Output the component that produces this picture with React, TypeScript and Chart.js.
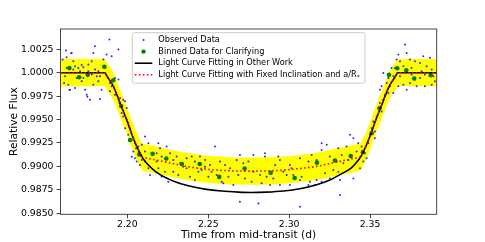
import React, { useEffect, useRef } from 'react';
import { Chart, registerables } from 'chart.js';

Chart.register(...registerables);

const FONT = '"DejaVu Sans", "Noto Sans", sans-serif';

const xTicks = [2.2, 2.25, 2.3, 2.35];
const yTicks = [0.985, 0.9875, 0.99, 0.9925, 0.995, 0.9975, 1.0, 1.0025];
const xRange = [2.1587, 2.3912];
const yRange = [0.98489, 1.00466];

const legendLabels = [
  'Observed Data',
  'Binned Data for Clarifying',
  'Light Curve Fitting in Other Work',
  'Light Curve Fitting with Fixed Inclination and a/R*',
];

// observed data points [time, relative flux]
const observedData: number[][] = [
  [2.16, 1.0014], [2.1625, 1.00165], [2.1656, 1.00211], [2.1666, 1.00122], [2.1621, 1.00236],
  [2.1677, 1.00068], [2.1697, 1.0005], [2.1728, 1.00058], [2.1759, 1.00086], [2.178, 1.00122],
  [2.179, 1.00211], [2.18, 1.00283], [2.1852, 1.0014], [2.1872, 1.00193], [2.1889, 1.00354],
  [2.1903, 1.00176], [2.1945, 1.00247], [2.1609, 0.9989], [2.1635, 0.99872], [2.1646, 0.99819],
  [2.1677, 0.99836], [2.1718, 0.99908], [2.1739, 0.99819], [2.1749, 0.99765], [2.1769, 0.99711],
  [2.179, 0.99872], [2.1821, 0.99908], [2.1841, 0.99819], [2.178, 0.9998], [2.1811, 0.99961],
  [2.1831, 0.99961], [2.1759, 1.00015], [2.1708, 1.00015], [2.1666, 1.00033], [2.1625, 1.0005],
  [2.1615, 0.99961], [2.1687, 0.99944], [2.1728, 0.99944], [2.18, 1.00033], [2.1821, 1.00015],
  [2.1893, 0.9989], [2.1903, 0.99854], [2.1914, 0.99908], [2.1924, 0.99944], [2.1945, 0.99926],
  [2.1893, 0.99801], [2.1924, 0.99765], [2.1955, 0.99729], [2.1975, 0.99711], [2.1986, 0.99694],
  [2.1996, 0.99622], [2.1965, 0.9964], [2.1951, 0.99676], [2.1965, 0.99569], [2.1975, 0.99533],
  [2.1996, 0.99497], [2.2006, 0.99462], [2.2016, 0.99408], [2.1986, 0.99408], [2.2006, 0.99337],
  [2.2027, 0.99283], [2.2047, 0.99247], [2.2068, 0.99212], [2.2089, 0.9923], [2.2109, 0.99319],
  [2.213, 0.99247], [2.2109, 0.99158], [2.2037, 0.99158], [2.2027, 0.99104], [2.2047, 0.99087],
  [2.2058, 0.99051], [2.2089, 0.99069], [2.2078, 0.99015], [2.2109, 0.99051], [2.213, 0.9898],
  [2.214, 0.98908], [2.2054, 0.99194], [2.2078, 0.9913], [2.1653, 1.00208], [2.1718, 1.00082],
  [2.1642, 0.99815], [2.1753, 0.99743], [2.1831, 0.99718],
  [2.2192, 0.99247], [2.2202, 0.99194], [2.2243, 0.99212], [2.2181, 0.9914], [2.2212, 0.99105],
  [2.2264, 0.9914], [2.2284, 0.99069], [2.2305, 0.99105], [2.2326, 0.99033], [2.2367, 0.99087],
  [2.2398, 0.99105], [2.2418, 0.99051], [2.2449, 0.99105], [2.248, 0.99069], [2.2511, 0.99015],
  [2.2542, 0.99212], [2.248, 0.98997], [2.2521, 0.98944], [2.2573, 0.99051], [2.2604, 0.99015],
  [2.2635, 0.9898], [2.2676, 0.99069], [2.2696, 0.99122], [2.2717, 0.99033], [2.2748, 0.99051],
  [2.2192, 0.9898], [2.2233, 0.98944], [2.2284, 0.98944], [2.2315, 0.98908], [2.2367, 0.9898],
  [2.2387, 0.9889], [2.2439, 0.98944], [2.2501, 0.9889], [2.2552, 0.98908], [2.2583, 0.98837],
  [2.2624, 0.9889], [2.2686, 0.98908], [2.2727, 0.98872], [2.2253, 0.98837], [2.2212, 0.9889],
  [2.2418, 0.98855], [2.2593, 0.98819], [2.2655, 0.98801], [2.2696, 0.98623], [2.2181, 0.99051],
  [2.2346, 0.98997], [2.2459, 0.98962],
  [2.2779, 0.99122], [2.2851, 0.9914], [2.2851, 0.99105], [2.2933, 0.99105], [2.2943, 0.99069],
  [2.3005, 0.99015], [2.3067, 0.99087], [2.3119, 0.99051], [2.3139, 0.99122], [2.317, 0.99069],
  [2.3201, 0.99247], [2.3232, 0.9923], [2.3201, 0.99176], [2.3252, 0.99105], [2.3304, 0.99194],
  [2.3325, 0.99122], [2.3294, 0.99051], [2.3335, 0.99033], [2.2779, 0.98944], [2.282, 0.98908],
  [2.2861, 0.9889], [2.2902, 0.98872], [2.2964, 0.98944], [2.2985, 0.98908], [2.3015, 0.9898],
  [2.3077, 0.9889], [2.3129, 0.98837], [2.317, 0.98855], [2.3222, 0.98926], [2.3273, 0.98962],
  [2.3304, 0.98944], [2.2768, 0.98837], [2.283, 0.98819], [2.2882, 0.98801], [2.2943, 0.98801],
  [2.3005, 0.98801], [2.3067, 0.98855], [2.3119, 0.98801], [2.316, 0.98801], [2.3201, 0.98837],
  [2.3252, 0.98872], [2.3314, 0.98855], [2.281, 0.98605], [2.3067, 0.98569], [2.3314, 0.98694],
  [2.2913, 0.99015], [2.3026, 0.98908],
  [2.3376, 0.99337], [2.3397, 0.99301], [2.3355, 0.99212], [2.3366, 0.99069], [2.3417, 0.99158],
  [2.3427, 0.99247], [2.3448, 0.99212], [2.3397, 0.98872], [2.3438, 0.9898], [2.3458, 0.99051],
  [2.3479, 0.99087], [2.3489, 0.99247], [2.35, 0.99337], [2.351, 0.99408], [2.352, 0.9948],
  [2.353, 0.99372], [2.3541, 0.99533], [2.3551, 0.99622], [2.3561, 0.99676], [2.3572, 0.99586],
  [2.3582, 0.99711], [2.3561, 0.99819], [2.3572, 0.99854], [2.3592, 0.99765], [2.3603, 0.9989],
  [2.3582, 0.99997], [2.3613, 0.99944], [2.3623, 0.99854], [2.3644, 0.99961], [2.3654, 1.0005],
  [2.3664, 1.0014], [2.3675, 1.00193], [2.3685, 1.00122], [2.3706, 1.00068], [2.3726, 1.00211],
  [2.3716, 1.003], [2.3747, 1.0014], [2.3757, 1.0005], [2.3778, 1.00122], [2.3809, 1.00104],
  [2.3829, 1.00176], [2.385, 1.00068], [2.387, 1.00158], [2.3881, 1.00033], [2.3839, 0.9998],
  [2.3809, 0.99944], [2.3778, 0.99926], [2.3747, 0.9989], [2.3706, 0.99872], [2.3675, 0.99854],
  [2.3726, 0.99819], [2.3788, 0.99854], [2.3839, 0.99854], [2.3881, 0.99872], [2.3901, 0.99908],
  [2.3685, 0.99961], [2.3757, 0.9998], [2.3819, 1.00015], [2.3891, 0.99961], [2.3633, 1.0005],
  [2.3613, 0.99783], [2.3644, 0.99783], [2.353, 0.99301], [2.3469, 0.9914],
];

// binned data [time, relative flux]
const binnedData: number[][] = [
  [2.1642, 1.00049], [2.1702, 0.99951], [2.1755, 0.99977], [2.1858, 1.00062], [2.1913, 0.9992],
  [2.1962, 0.99645], [2.2017, 0.99281], [2.2074, 0.99128], [2.2156, 0.99134], [2.2241, 0.99085],
  [2.2337, 0.99026], [2.2447, 0.99026], [2.2568, 0.98888], [2.2725, 0.98978], [2.2886, 0.98933],
  [2.3034, 0.98877], [2.3172, 0.9904], [2.3283, 0.99063], [2.3381, 0.99111], [2.3456, 0.99152],
  [2.351, 0.99353], [2.3559, 0.9962], [2.3617, 0.99977], [2.3668, 1.00048], [2.3724, 1.00025],
  [2.3773, 0.99938], [2.3875, 0.99972],
];

// light curve fitting in other work
const otherTime = [
  2.1587, 2.1862, 2.1872, 2.1914, 2.1955, 2.1996, 2.2037, 2.2068, 2.2089, 2.212, 2.2151, 2.22,
  2.2295, 2.2377, 2.248, 2.2583, 2.2686, 2.2766, 2.2861, 2.2964, 2.3067, 2.317, 2.3252, 2.332,
  2.3381, 2.3412, 2.3443, 2.3464, 2.3495, 2.3536, 2.3577, 2.3618, 2.366, 2.367, 2.3912,
];
const otherFlux = [
  1.0, 1.0, 0.99968, 0.99854, 0.99676, 0.99497, 0.99301, 0.99176, 0.99105, 0.99033, 0.9898, 0.98915,
  0.98837, 0.98794, 0.98758, 0.98737, 0.98726, 0.98722, 0.98726, 0.98738, 0.98762, 0.98805, 0.98855, 0.98918,
  0.9898, 0.99033, 0.99105, 0.99176, 0.99301, 0.99497, 0.99676, 0.99854, 0.99968, 1.0, 1.0,
];

// light curve fitting with fixed inclination and a/R*
const fixedTime = [
  2.1587, 2.1862, 2.1872, 2.1914, 2.1955, 2.1996, 2.2037, 2.2068, 2.2089, 2.213, 2.2202, 2.228,
  2.2377, 2.248, 2.2583, 2.2686, 2.2766, 2.2861, 2.2964, 2.3067, 2.317, 2.325, 2.333, 2.34,
  2.3443, 2.3464, 2.3495, 2.3536, 2.3577, 2.3618, 2.366, 2.367, 2.3912,
];
const fixedFlux = [
  1.0, 1.0, 0.99968, 0.99854, 0.99676, 0.99497, 0.99301, 0.99176, 0.9911, 0.99085, 0.9906, 0.9903,
  0.98997, 0.98972, 0.98958, 0.98951, 0.9895, 0.98952, 0.9896, 0.98978, 0.99, 0.9903, 0.9906, 0.99085,
  0.9911, 0.99176, 0.99301, 0.99497, 0.99676, 0.99854, 0.99968, 1.0, 1.0,
];
// uncertainty band around the fixed fit (same time grid)
const bandUpper = [
  1.00145, 1.00145, 1.00113, 0.99999, 0.99821, 0.99642, 0.99446, 0.99321, 0.99255, 0.9923, 0.99205, 0.99175,
  0.99142, 0.99117, 0.99103, 0.99096, 0.99095, 0.99097, 0.99105, 0.99123, 0.99145, 0.99175, 0.99205, 0.9923,
  0.99255, 0.99321, 0.99446, 0.99642, 0.99821, 0.99999, 1.00113, 1.00145, 1.00145,
];
const bandLower = [
  0.99855, 0.99855, 0.99823, 0.99709, 0.99531, 0.99352, 0.99156, 0.99031, 0.98965, 0.9894, 0.98915, 0.98885,
  0.98852, 0.98827, 0.98813, 0.98806, 0.98805, 0.98807, 0.98815, 0.98833, 0.98855, 0.98885, 0.98915, 0.9894,
  0.98965, 0.99031, 0.99156, 0.99352, 0.99531, 0.99709, 0.99823, 0.99855, 0.99855,
];

const toXY = (t: number[], v: number[]) => t.map((x, i) => ({ x, y: v[i] }));

const frameLegendPlugin = {
  id: 'frameLegend',
  afterDraw(chart: any) {
    const { ctx, chartArea: a } = chart;
    ctx.save();
    // axes frame (all four spines)
    ctx.strokeStyle = '#333333';
    ctx.lineWidth = 0.9;
    ctx.strokeRect(a.left, a.top, a.right - a.left, a.bottom - a.top);

    // legend box
    const mainFont = `8.2px ${FONT}`;
    const subFont = `5.7px ${FONT}`;
    ctx.font = mainFont;
    const widths = legendLabels.map((l) => {
      if (l.endsWith('*')) {
        ctx.font = mainFont;
        const w = ctx.measureText(l.slice(0, -1)).width;
        ctx.font = subFont;
        const w2 = ctx.measureText('*').width;
        ctx.font = mainFont;
        return w + w2 + 1;
      }
      return ctx.measureText(l).width;
    });
    const textW = Math.max(...widths);
    const padL = 2.5, handleW = 17.6, gap = 6, padR = 4.5;
    const rowH = 11.6;
    const boxW = padL + handleW + gap + textW + padR;
    const boxH = 7.3 + rowH * 3 + 8.3;
    const cx = (a.left + a.right) / 2;
    const bx = cx - boxW / 2;
    const by = a.top + 3.7;
    ctx.beginPath();
    if (ctx.roundRect) ctx.roundRect(bx, by, boxW, boxH, 2);
    else ctx.rect(bx, by, boxW, boxH);
    ctx.fillStyle = 'rgba(255,255,255,0.85)';
    ctx.fill();
    ctx.strokeStyle = '#cccccc';
    ctx.lineWidth = 1;
    ctx.stroke();

    const hx0 = bx + padL;
    const hx1 = hx0 + handleW;
    const hcx = (hx0 + hx1) / 2;
    const tx = hx1 + gap;
    legendLabels.forEach((label, i) => {
      const y = by + 7.3 + i * rowH;
      // handle
      if (i === 0) {
        ctx.fillStyle = '#2a2aff';
        ctx.beginPath();
        ctx.arc(hcx, y, 1, 0, Math.PI * 2);
        ctx.fill();
      } else if (i === 1) {
        ctx.fillStyle = '#008000';
        ctx.beginPath();
        ctx.arc(hcx, y, 2.2, 0, Math.PI * 2);
        ctx.fill();
      } else if (i === 2) {
        ctx.strokeStyle = '#000000';
        ctx.lineWidth = 1.6;
        ctx.setLineDash([]);
        ctx.beginPath();
        ctx.moveTo(hx0, y);
        ctx.lineTo(hx1, y);
        ctx.stroke();
      } else {
        ctx.strokeStyle = '#ff0000';
        ctx.lineWidth = 1.6;
        ctx.setLineDash([1.6, 2.4]);
        ctx.beginPath();
        ctx.moveTo(hx0, y);
        ctx.lineTo(hx1, y);
        ctx.stroke();
        ctx.setLineDash([]);
      }
      // text
      ctx.fillStyle = '#000000';
      ctx.textAlign = 'left';
      ctx.textBaseline = 'middle';
      if (label.endsWith('*')) {
        const base = label.slice(0, -1);
        ctx.font = mainFont;
        ctx.fillText(base, tx, y);
        const w = ctx.measureText(base).width;
        ctx.font = subFont;
        ctx.fillText('*', tx + w + 0.5, y + 2.3);
      } else {
        ctx.font = mainFont;
        ctx.fillText(label, tx, y);
      }
    });
    ctx.restore();
  },
};

export default function App() {
  const canvasRef = useRef<HTMLCanvasElement | null>(null);

  useEffect(() => {
    document.body.style.margin = '0';
    const canvas = canvasRef.current;
    if (!canvas) return;
    const tickFont = { family: FONT, size: 9.3 };
    const titleFont = { family: FONT, size: 10.7, lineHeight: 1.2 };
    const chart = new Chart(canvas, {
      type: 'scatter',
      data: {
        datasets: [
          {
            type: 'line',
            label: 'band lower',
            data: toXY(fixedTime, bandLower),
            borderWidth: 0,
            borderColor: 'rgba(0,0,0,0)',
            pointRadius: 0,
            fill: false,
            cubicInterpolationMode: 'monotone',
            order: 6,
          } as any,
          {
            type: 'line',
            label: 'band upper',
            data: toXY(fixedTime, bandUpper),
            borderWidth: 0,
            borderColor: 'rgba(0,0,0,0)',
            backgroundColor: '#ffff00',
            pointRadius: 0,
            fill: '-1',
            cubicInterpolationMode: 'monotone',
            order: 5,
          } as any,
          {
            type: 'scatter',
            label: legendLabels[0],
            data: observedData.map(([x, y]) => ({ x, y })),
            backgroundColor: '#2a2aff',
            borderWidth: 0,
            pointRadius: 1,
            order: 4,
          },
          {
            type: 'scatter',
            label: legendLabels[1],
            data: binnedData.map(([x, y]) => ({ x, y })),
            backgroundColor: '#008000',
            borderWidth: 0,
            pointRadius: 2.3,
            order: 3,
          },
          {
            type: 'line',
            label: legendLabels[2],
            data: toXY(otherTime, otherFlux),
            borderColor: '#000000',
            borderWidth: 1.6,
            pointRadius: 0,
            fill: false,
            cubicInterpolationMode: 'monotone',
            order: 2,
          } as any,
          {
            type: 'line',
            label: legendLabels[3],
            data: toXY(fixedTime, fixedFlux),
            borderColor: '#ff0000',
            borderWidth: 1.6,
            borderDash: [1.6, 2.4],
            pointRadius: 0,
            fill: false,
            cubicInterpolationMode: 'monotone',
            order: 1,
          } as any,
        ],
      },
      options: {
        animation: false,
        responsive: false,
        maintainAspectRatio: false,
        layout: { padding: { top: 29, right: 48.3, left: 0, bottom: 0 } },
        plugins: {
          legend: { display: false },
          tooltip: { enabled: false },
          title: { display: false },
        },
        scales: {
          x: {
            type: 'linear',
            min: xRange[0],
            max: xRange[1],
            afterBuildTicks: (s: any) => {
              s.ticks = xTicks.map((v) => ({ value: v }));
            },
            afterFit: (s: any) => {
              s.height = 27.7;
            },
            ticks: {
              font: tickFont,
              color: '#000000',
              padding: 1,
              maxRotation: 0,
              autoSkip: false,
              callback: (v: any) => Number(v).toFixed(2),
            },
            grid: {
              drawOnChartArea: false,
              drawTicks: true,
              tickLength: 4,
              color: '#333333',
              lineWidth: 0.9,
            },
            border: { display: false },
            title: {
              display: true,
              text: 'Time from mid-transit (d)',
              font: titleFont,
              color: '#000000',
              padding: { top: 0, bottom: 0 },
            },
          },
          y: {
            type: 'linear',
            min: yRange[0],
            max: yRange[1],
            afterBuildTicks: (s: any) => {
              s.ticks = yTicks.map((v) => ({ value: v }));
            },
            afterFit: (s: any) => {
              s.width = 60.5;
            },
            ticks: {
              font: tickFont,
              color: '#000000',
              padding: 3,
              autoSkip: false,
              callback: (v: any) => Number(v).toFixed(4),
            },
            grid: {
              drawOnChartArea: false,
              drawTicks: true,
              tickLength: 4,
              color: '#333333',
              lineWidth: 0.9,
            },
            border: { display: false },
            title: {
              display: true,
              text: 'Relative Flux',
              font: titleFont,
              color: '#000000',
              padding: { top: 7.6, bottom: 0 },
            },
          },
        },
      },
      plugins: [frameLegendPlugin],
    });
    return () => {
      chart.destroy();
    };
  }, []);

  return (
    <div style={{ width: 485, height: 242 }}>
      <canvas ref={canvasRef} width={485} height={242} style={{ display: 'block', width: 485, height: 242 }} />
    </div>
  );
}
